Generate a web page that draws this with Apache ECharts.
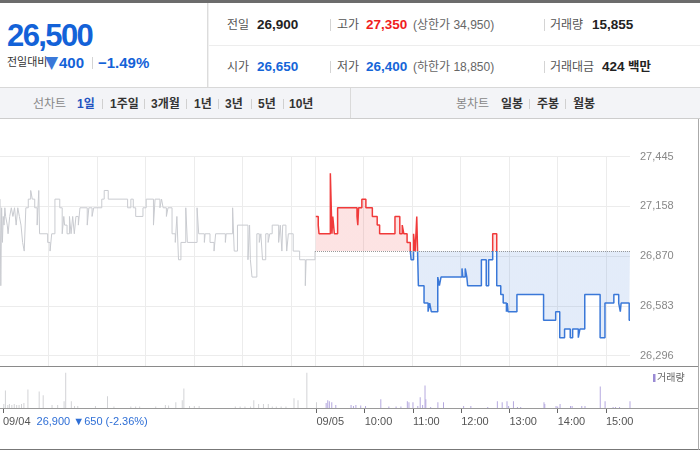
<!DOCTYPE html>
<html>
<head>
<meta charset="utf-8">
<script src="https://cdn.jsdelivr.net/npm/echarts@6/dist/echarts.min.js"></script>
<style>
  html,body{margin:0;padding:0;background:#fff;}
  #wrap{position:relative;width:700px;height:450px;overflow:hidden;background:#fff;
        font-family:"Liberation Sans","Noto Sans CJK KR",sans-serif;}
  .abs{position:absolute;}
  .t{position:absolute;white-space:nowrap;line-height:20px;}
  .lab{font-size:12px;color:#555;}
  .num{font-size:13.5px;font-weight:bold;color:#222;}
  .sub{font-size:12px;color:#666;}
  .red{color:#f01d1d;}
  .blue{color:#1565d8;}
  .sep{position:absolute;width:1px;height:12px;background:#d4d4d4;}
  .tb{position:absolute;white-space:nowrap;line-height:16px;top:96px;font-size:12px;font-weight:bold;color:#333;}
  .tbg{font-weight:normal;color:#888;}
  .tbs{position:absolute;width:1px;height:10px;top:99px;background:#d0d0d0;}
  #chart{position:absolute;left:0;top:119px;width:700px;height:331px;}
</style>
</head>
<body>
<div id="wrap">
  <div class="abs" style="left:0;top:0;width:700px;height:3px;background:#6c6c6c"></div>
  <!-- left price box -->
  <div class="abs" style="left:207px;top:3px;width:1px;height:84px;background:#dcdcdc"></div>
  <div class="abs" style="left:208px;top:3px;width:1px;height:84px;background:#f0f0f0"></div>
  <div class="abs" style="left:7px;top:19px;font-size:31px;line-height:34px;font-weight:bold;color:#1362d8;letter-spacing:-1.6px;white-space:nowrap">26,500</div>
  <div class="abs" style="left:7px;top:55px;font-size:11px;line-height:14px;color:#333;white-space:nowrap">전일대비</div>
  <div class="abs" style="left:45px;top:52px;font-size:17px;line-height:20px;color:#3a78d8;white-space:nowrap;font-family:'DejaVu Sans'">▼</div>
  <div class="abs" style="left:59px;top:54px;font-size:15px;line-height:18px;font-weight:bold;color:#1362d8;white-space:nowrap">400</div>
  <div class="abs" style="left:92px;top:57px;width:1px;height:12px;background:#d4d4d4"></div>
  <div class="abs" style="left:98px;top:54px;font-size:15px;line-height:18px;font-weight:bold;color:#1362d8;white-space:nowrap">−1.49%</div>

  <!-- right info -->
  <div class="abs" style="left:209px;top:45px;width:491px;height:1px;background:#ededed"></div>
  <div class="t lab" style="left:227px;top:15px">전일</div>
  <div class="t num" style="left:257px;top:15px">26,900</div>
  <div class="sep" style="left:330px;top:19px"></div>
  <div class="t lab" style="left:337px;top:15px">고가</div>
  <div class="t num red" style="left:366px;top:15px">27,350</div>
  <div class="t sub" style="left:413px;top:15px">(상한가 34,950)</div>
  <div class="sep" style="left:544px;top:19px"></div>
  <div class="t lab" style="left:550px;top:15px">거래량</div>
  <div class="t num" style="left:592px;top:15px">15,855</div>

  <div class="t lab" style="left:227px;top:57px">시가</div>
  <div class="t num blue" style="left:257px;top:57px">26,650</div>
  <div class="sep" style="left:330px;top:61px"></div>
  <div class="t lab" style="left:337px;top:57px">저가</div>
  <div class="t num blue" style="left:366px;top:57px">26,400</div>
  <div class="t sub" style="left:413px;top:57px">(하한가 18,850)</div>
  <div class="sep" style="left:544px;top:61px"></div>
  <div class="t lab" style="left:550px;top:57px">거래대금</div>
  <div class="t num" style="left:602px;top:57px">424</div>
  <div class="t num" style="left:628px;top:57px;font-size:12.5px">백만</div>

  <!-- toolbar -->
  <div class="abs" style="left:0;top:87px;width:700px;height:30px;background:#f3f4f7;border-top:1px solid #d8d8d8;border-bottom:1px solid #cdcdcd"></div>
  <div class="abs" style="left:350px;top:88px;width:1px;height:30px;background:#dadada"></div>
  <div class="tb tbg" style="left:33px">선차트</div>
  <div class="tb" style="left:77px;color:#2353c0">1일</div>
  <div class="tbs" style="left:102px"></div>
  <div class="tb" style="left:110px">1주일</div>
  <div class="tbs" style="left:144px"></div>
  <div class="tb" style="left:151px">3개월</div>
  <div class="tbs" style="left:186px"></div>
  <div class="tb" style="left:194px">1년</div>
  <div class="tbs" style="left:218px"></div>
  <div class="tb" style="left:225px">3년</div>
  <div class="tbs" style="left:251px"></div>
  <div class="tb" style="left:258px">5년</div>
  <div class="tbs" style="left:283px"></div>
  <div class="tb" style="left:289px">10년</div>
  <div class="tb tbg" style="left:456px">봉차트</div>
  <div class="tb" style="left:501px">일봉</div>
  <div class="tbs" style="left:529px"></div>
  <div class="tb" style="left:537px">주봉</div>
  <div class="tbs" style="left:565px"></div>
  <div class="tb" style="left:573px">월봉</div>

  <div id="chart"></div>
</div>
<script>
// ---------------- data ----------------
const prevClose = 26900;
const upperLimit = 34950, lowerLimit = 18850;
const yMin = 26296, yMax = 27445, yStep = 287.25;
const yTickLabels = ['26,296', '26,583', '26,870', '27,158', '27,445'];
const dayNames = ['09/04', '09/05'];

const day1Times = ['09:00','09:01','09:02','09:03','09:04','09:05','09:06','09:07','09:09','09:10',
  '09:12','09:14','09:16','09:18','09:20','09:22','09:24','09:26','09:28','09:30',
  '09:32','09:35','09:38','09:40','09:43','09:46','09:48','09:49','09:59','10:02',
  '10:04','10:08','10:14','10:17','10:19','10:20','10:23','10:26','10:28','10:30',
  '10:32','10:34','10:37','10:39','10:48','10:50','10:54','10:56','11:06','11:09',
  '11:14','11:38','11:42','11:45','11:48','11:57','12:01','12:10','12:12','12:18',
  '12:20','12:22','12:26','12:28','12:33','12:37','12:39','12:41','12:44','12:50',
  '12:52','13:04','13:06','13:13','13:14','13:20','13:25','13:27','13:39','13:40',
  '13:48','13:50','13:54','14:07','14:09','14:10','14:12','14:18','14:21','14:23',
  '14:25','14:29','14:32','14:34','14:37','14:45','14:47','14:49','14:50','14:54',
  '14:55','14:57','15:03','15:11','15:18','15:19','15:30'];
const day1Prices = [27200,26700,27150,26950,27100,27050,27150,27100,27050,27000,
  27100,27150,27100,27150,27050,27150,27100,27050,26950,26900,
  27150,27200,27250,27200,27150,27050,27250,27000,26950,26900,
  27000,27200,27150,27000,27100,27050,27000,27100,27000,27100,
  27000,27100,27050,27150,27050,27150,27100,27150,27200,27250,
  27200,27150,27200,27150,27100,27150,27200,27050,27200,27150,
  27200,27150,27100,27150,27000,26950,27100,26850,26950,27150,
  26950,27150,27000,26950,27000,26950,26900,27000,26950,27000,
  27150,26900,27050,26850,27050,26850,26750,27000,26950,27000,
  26850,27000,26950,27000,27050,26950,27050,26900,27050,27000,
  26900,27000,26900,26850,26700,26850,26900];

const day2Times = ['09:01','09:04','09:05','09:19','09:21','09:22','09:24','09:28','09:52','09:53',
  '09:54','09:58','10:03','10:11','10:17','10:20','10:39','10:45','10:48','10:50',
  '10:54','10:58','10:59','11:02','11:04','11:06','11:08','11:15','11:20','11:22',
  '11:24','11:32','11:34','11:36','12:02','12:03','12:06','12:08','12:09','12:26',
  '12:32','12:35','12:40','12:45','12:50','12:53','12:57','12:58','12:59','13:10',
  '13:43','13:58','14:03','14:09','14:16','14:19','14:26','14:28','14:34','14:53',
  '14:59','15:10','15:16','15:18','15:19','15:29','15:30'];
const day2Prices = [27100,27050,27000,27350,27000,27100,27000,27150,27100,27050,
  27150,27200,27150,27100,27050,27000,27100,27000,27050,27000,
  26950,26900,26850,27000,26900,27100,26700,26600,26550,26600,
  26550,26750,26700,26750,26800,26750,26800,26750,26700,26850,
  26700,26850,27000,26700,26650,26600,26550,26600,26550,26650,
  26500,26550,26400,26450,26400,26450,26400,26450,26650,26400,
  26600,26650,26600,26550,26600,26500,26500];

const day1VolTimes = ['09:01','09:03','09:06','09:08','09:11','09:14','09:17','09:20','09:23','09:26',
  '09:31','09:45','09:50','10:01','10:08','10:16','10:18','10:25','10:29','10:33',
  '10:55','11:10','11:18','11:39','11:45','11:50','12:10','12:22','12:26','12:35',
  '12:43','12:45','12:52','12:58','13:04','13:49','13:55','14:01','14:08','14:12',
  '14:18','14:24','14:30','14:35','14:40','14:46','14:52','15:02','15:07','15:18','15:30'];
const day1Vols = [400,1800,300,400,300,400,300,300,400,500,
  1900,1700,1300,300,300,700,3600,700,200,200,
  200,1200,150,150,150,150,150,300,250,600,
  800,2000,200,200,200,150,150,150,150,800,
  400,400,400,150,150,150,150,1000,800,3600,600];

const day2VolTimes = ['09:12','09:14','09:16','09:19','09:24','09:43','09:46','09:49','09:55','10:01',
  '10:20','10:30','10:39','10:45','10:53','10:55','11:00','11:06','11:09','11:12',
  '11:15','11:16','11:22','11:31','11:38','12:03','12:12','12:33','12:45','12:51',
  '12:57','12:59','13:05','13:10','13:14','13:43','13:44','13:58','14:00','14:03',
  '14:16','14:18','14:30','14:34','14:53','14:59','15:09','15:12','15:17','15:30'];
const day2Vols = [500,800,700,600,300,300,200,300,250,200,
  900,150,150,150,700,600,600,200,1100,300,
  2300,900,100,600,600,200,200,100,700,600,
  700,200,700,100,100,600,400,200,150,400,
  200,200,200,200,2200,700,100,100,100,700];

const xTickDays   = [0, 1, 1, 1, 1, 1, 1, 1];
const xTickTimes  = ['09:00','09:00','10:00','11:00','12:00','13:00','14:00','15:00'];
const xTickLabels = ['09/04','09/05','10:00','11:00','12:00','13:00','14:00','15:00'];
const prevDaySummary = '26,900 ▼650 (-2.36%)';
const gridLineDays  = [0,0,0,0,0,0,1,1,1,1,1,1,1];
const gridLineTimes = ['10:00','11:00','12:00','13:00','14:00','15:00',
                       '09:00','10:00','11:00','12:00','13:00','14:00','15:00'];
const volumeLegend = '거래량';

// ---------------- helpers ----------------
const SESSION = 390; // minutes 09:00-15:30
function idx(day, hm) {
  const p = hm.split(':').map(Number);
  return day * SESSION + (p[0] - 9) * 60 + p[1];
}
function fmt(m) {
  const h = 9 + Math.floor(m / 60), mm = m % 60;
  return (h < 10 ? '0' : '') + h + ':' + (mm < 10 ? '0' : '') + mm;
}
const categories = [];
for (let d = 0; d < 2; d++) for (let m = 0; m < SESSION; m++) categories.push(dayNames[d] + ' ' + fmt(m));
categories.push(dayNames[1] + ' 15:30');

const labelByIdx = {};
xTickLabels.forEach((l, i) => { labelByIdx[idx(xTickDays[i], xTickTimes[i])] = l; });
const gridSet = new Set(gridLineTimes.map((t, i) => idx(gridLineDays[i], t)));

const s1 = day1Times.map((t, i) => [idx(0, t), day1Prices[i]]);
const s2 = day2Times.map((t, i) => [idx(1, t), day2Prices[i]]);
const v1 = day1VolTimes.map((t, i) => [idx(0, t), day1Vols[i]]);
const v2 = day2VolTimes.map((t, i) => [idx(1, t), day2Vols[i]]);

const CT = 119; // chart top on page
const FONT = '"Liberation Sans","Noto Sans CJK KR",sans-serif';
const RED = '#f03a3a', BLUE = '#3a78d8';

const chart = echarts.init(document.getElementById('chart'));
chart.setOption({
  animation: false,
  textStyle: { fontFamily: FONT },
  grid: [
    { left: 0, width: 630, top: 156.7 - CT, height: 199 },
    { left: 0, width: 630, top: 367 - CT, height: 41 },
    { left: 0, width: 630, top: 156.7 - CT, height: 366 - 156.7 }
  ],
  xAxis: [
    { gridIndex: 0, type: 'category', data: categories, boundaryGap: false,
      axisLine: { show: false }, axisTick: { show: false }, axisLabel: { show: false }, splitLine: { show: false } },
    { gridIndex: 1, type: 'category', data: categories, boundaryGap: false,
      axisLine: { show: false },
      axisTick: { show: true, length: 5, interval: (i) => labelByIdx[i] !== undefined, lineStyle: { color: '#666' } },
      axisLabel: {
        show: true, interval: (i) => labelByIdx[i] !== undefined,
        align: 'left', margin: 8, fontSize: 11, color: '#555', fontFamily: FONT,
        formatter: (v, i) => i === 0 ? labelByIdx[0] + ' {b|' + prevDaySummary + '}' : (labelByIdx[i] || ''),
        rich: { b: { color: '#2f6fd6', fontSize: 11, fontFamily: FONT, padding: [0, 0, 0, 3] } }
      },
      splitLine: { show: false } },
    { gridIndex: 2, type: 'category', data: categories, boundaryGap: false,
      axisLine: { show: false }, axisTick: { show: false }, axisLabel: { show: false },
      splitLine: { show: true, interval: (i) => gridSet.has(i), lineStyle: { color: '#ececec', width: 1 } } }
  ],
  yAxis: [
    { gridIndex: 0, type: 'value', min: yMin, max: yMax, interval: yStep, position: 'right',
      axisLine: { show: false }, axisTick: { show: false },
      axisLabel: { margin: 10, fontSize: 11, color: '#888', fontFamily: FONT,
        formatter: (v) => yTickLabels[Math.round((v - yMin) / yStep)] || '' },
      splitLine: { lineStyle: { color: '#ececec' } } },
    { gridIndex: 1, type: 'value', min: 0, max: 4200, show: false, splitLine: { show: false } },
    { gridIndex: 2, type: 'value', show: false, splitLine: { show: false } }
  ],
  visualMap: {
    show: false, type: 'piecewise', seriesIndex: 1, dimension: 1,
    pieces: [
      { gte: lowerLimit, lte: prevClose, color: BLUE },
      { gt: prevClose, lte: upperLimit, color: RED }
    ],
    outOfRange: { color: BLUE }
  },
  series: [
    { type: 'line', xAxisIndex: 0, yAxisIndex: 0, data: s1, step: 'end', symbol: 'none',
      lineStyle: { color: '#c9cbd0', width: 1 }, z: 3 },
    { type: 'line', xAxisIndex: 0, yAxisIndex: 0, data: s2, step: 'end', symbol: 'none',
      lineStyle: { width: 1.5 }, areaStyle: { origin: prevClose, opacity: 0.14 }, z: 4,
      markLine: { silent: true, symbol: ['none', 'none'], label: { show: false },
        lineStyle: { color: '#999', type: 'dotted', width: 1 },
        data: [[{ coord: [idx(1, '09:00'), prevClose] }, { coord: [idx(1, '15:30'), prevClose] }]] } },
    { type: 'bar', xAxisIndex: 1, yAxisIndex: 1, data: v1, barWidth: 1, barGap: '-100%',
      itemStyle: { color: '#d2d3d6' } },
    { type: 'bar', xAxisIndex: 1, yAxisIndex: 1, data: v2, barWidth: 1, barGap: '-100%',
      itemStyle: { color: '#b5a9df' } }
  ],
  graphic: [
    { type: 'line', shape: { x1: 0, y1: 366.5 - CT, x2: 698, y2: 366.5 - CT }, style: { stroke: '#8a8a8a', lineWidth: 1 }, z: 10 },
    { type: 'line', shape: { x1: 0, y1: 408.5 - CT, x2: 698, y2: 408.5 - CT }, style: { stroke: '#9a9a9a', lineWidth: 1 }, z: 10 },
    { type: 'line', shape: { x1: 0, y1: 449.5 - CT, x2: 700, y2: 449.5 - CT }, style: { stroke: '#777', lineWidth: 1 }, z: 10 },
    { type: 'line', shape: { x1: 698.5, y1: 0, x2: 698.5, y2: 331 }, style: { stroke: '#aaa', lineWidth: 1 }, z: 10 },
    { type: 'rect', shape: { x: 653, y: 374 - CT, width: 2.5, height: 8 }, style: { fill: '#9a8bd4' }, z: 10 },
    { type: 'text', x: 657, y: 378 - CT, style: { text: volumeLegend, fontSize: 10, fill: '#666', fontFamily: FONT, verticalAlign: 'middle' }, z: 10 }
  ]
});
</script>
</body>
</html>
